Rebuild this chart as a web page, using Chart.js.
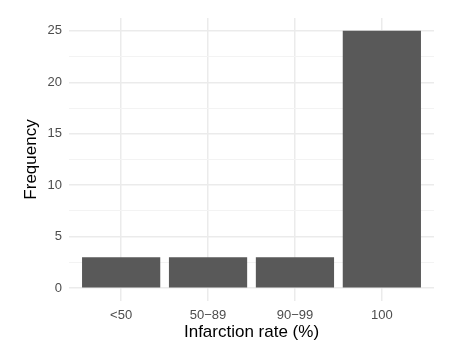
<!DOCTYPE html>
<html>
<head>
<meta charset="utf-8">
<script src="https://cdn.jsdelivr.net/npm/chart.js@4"></script>
<style>
  html, body { margin: 0; padding: 0; background: #fff; }
  #wrap { width: 461px; height: 360px; }
</style>
</head>
<body>
<div id="wrap"><canvas id="chart" width="461" height="360"></canvas></div>
<script>
const categories = ['<50', '50\u221289', '90\u221299', '100'];
const frequencies = [3, 3, 3, 25];
const yTicks = [0, 2.5, 5, 7.5, 10, 12.5, 15, 17.5, 20, 22.5, 25];

const FONT = "'Liberation Sans', Arial, sans-serif";

const points = categories.map((c, i) => ({ x: i + 1, y: frequencies[i] }));

new Chart(document.getElementById('chart').getContext('2d'), {
    type: 'bar',
    data: {
        datasets: [{
            data: points,
            backgroundColor: '#595959',
            borderWidth: 0,
            barPercentage: 0.9,
            categoryPercentage: 1
        }]
    },
    options: {
        responsive: false,
        animation: false,
        layout: { padding: { left: 21, right: 27, top: 18, bottom: 17 } },
        plugins: { legend: { display: false }, tooltip: { enabled: false } },
        scales: {
            x: {
                type: 'linear',
                min: 0.4,
                max: 4.6,
                offset: false,
                afterBuildTicks: axis => { axis.ticks = categories.map((c, i) => ({ value: i + 1 })); },
                afterFit: axis => { axis.height = 42; },
                border: { display: false },
                grid: { color: '#ebebeb', lineWidth: 1.5, drawTicks: false, offset: false },
                ticks: {
                    callback: (v) => categories[v - 1],
                    color: '#4d4d4d',
                    font: { family: FONT, size: 13 },
                    padding: 7,
                    maxRotation: 0
                },
                title: {
                    display: true,
                    text: 'Infarction rate (%)',
                    color: '#000',
                    font: { family: FONT, size: 17 },
                    padding: 0
                }
            },
            y: {
                min: -1.25,
                max: 26.25,
                afterBuildTicks: axis => { axis.ticks = yTicks.map(v => ({ value: v })); },
                afterFit: axis => { axis.width = 48; },
                border: { display: false },
                grid: {
                    color: ctx => (ctx.tick && ctx.tick.value % 5 === 0) ? '#ebebeb' : '#f3f3f3',
                    lineWidth: ctx => (ctx.tick && ctx.tick.value % 5 === 0) ? 1.5 : 1,
                    drawTicks: false
                },
                ticks: {
                    callback: (v) => v % 5 === 0 ? String(v) : '',
                    color: '#4d4d4d',
                    font: { family: FONT, size: 13 },
                    padding: 7
                },
                title: {
                    display: true,
                    text: 'Frequency',
                    color: '#000',
                    font: { family: FONT, size: 17 },
                    padding: 0
                }
            }
        }
    }
});
</script>
</body>
</html>
